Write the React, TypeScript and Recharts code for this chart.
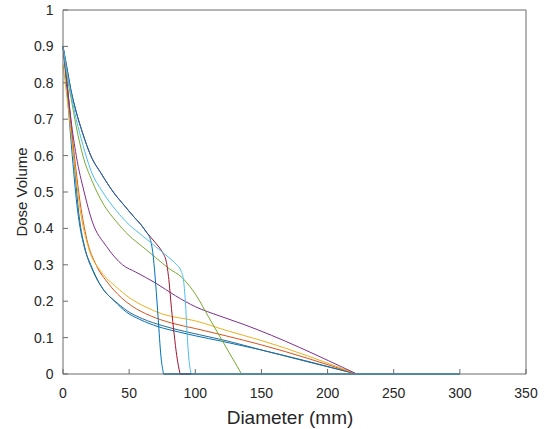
import { LineChart, Line, XAxis, YAxis } from 'recharts';

// diameter (mm) / dose volume pairs; each curve ends where it reaches 0
const blueLowX = [0, 3, 7, 11, 16, 21, 29, 39, 48, 58, 72, 88, 100, 120, 145, 222];
const blueLowY = [0.9, 0.78, 0.6, 0.45, 0.35, 0.3, 0.24, 0.2, 0.17, 0.15, 0.13, 0.115, 0.105, 0.09, 0.07, 0];

const darkLowX = [0, 3, 8, 12, 17, 23, 31, 41, 50, 60, 75, 92, 103, 125, 150, 222];
const darkLowY = [0.9, 0.8, 0.6, 0.44, 0.34, 0.28, 0.23, 0.195, 0.17, 0.152, 0.133, 0.117, 0.108, 0.09, 0.066, 0];

const redLowX = [0, 3, 8, 13, 18, 25, 34, 44, 52, 66, 82, 100, 123, 150, 222];
const redLowY = [0.9, 0.8, 0.62, 0.47, 0.37, 0.3, 0.25, 0.21, 0.187, 0.16, 0.14, 0.125, 0.105, 0.08, 0];

const yellowLowX = [0, 3, 8, 13, 19, 29, 40, 50, 62, 75, 100, 125, 150, 222];
const yellowLowY = [0.85, 0.76, 0.6, 0.45, 0.35, 0.28, 0.24, 0.21, 0.185, 0.165, 0.146, 0.118, 0.092, 0];

const purpleX = [0, 3, 6, 10, 16, 22, 33, 45, 55, 70, 85, 100, 118, 136, 222];
const purpleY = [0.9, 0.8, 0.7, 0.6, 0.5, 0.42, 0.35, 0.3, 0.28, 0.25, 0.215, 0.185, 0.16, 0.137, 0];

const greenX = [0, 3, 6, 10, 15, 22, 30, 40, 50, 60, 70, 80, 90, 96, 100, 110, 120, 135];
const greenY = [0.9, 0.82, 0.76, 0.68, 0.6, 0.53, 0.47, 0.42, 0.38, 0.35, 0.32, 0.29, 0.265, 0.24, 0.22, 0.157, 0.094, 0];

const lightBlueX = [0, 3, 6, 10, 15, 21, 30, 40, 50, 60, 70, 80, 86, 89, 91, 92.5, 94, 95.5, 97];
const lightBlueY = [0.9, 0.83, 0.77, 0.7, 0.63, 0.56, 0.5, 0.45, 0.41, 0.38, 0.35, 0.32, 0.3, 0.285, 0.26, 0.2, 0.1, 0.03, 0];

const darkRedX = [0, 3, 6, 10, 15, 21, 29, 38, 47, 54, 59, 63, 70, 75, 78, 80, 82, 84, 86, 88.5];
const darkRedY = [0.9, 0.84, 0.78, 0.72, 0.66, 0.6, 0.55, 0.5, 0.46, 0.43, 0.41, 0.39, 0.36, 0.335, 0.31, 0.26, 0.18, 0.11, 0.05, 0];

const blueTopX = [0, 3, 6, 10, 15, 21, 29, 38, 47, 54, 59, 63, 66, 68, 70, 72, 74, 76];
const blueTopY = [0.9, 0.84, 0.78, 0.72, 0.66, 0.6, 0.55, 0.5, 0.46, 0.43, 0.41, 0.39, 0.37, 0.33, 0.25, 0.15, 0.05, 0];

// every curve stays at 0 up to here
const zeroEnd = 300;

const xTicks = [0, 50, 100, 150, 200, 250, 300, 350];
const yTicks = [0, 0.1, 0.2, 0.3, 0.4, 0.5, 0.6, 0.7, 0.8, 0.9, 1];

const series = [
  { key: 'blueLow', color: '#0072BD', xs: blueLowX, ys: blueLowY },
  { key: 'darkLow', color: '#2E6B8A', xs: darkLowX, ys: darkLowY },
  { key: 'redLow', color: '#D95319', xs: redLowX, ys: redLowY },
  { key: 'yellowLow', color: '#EDB120', xs: yellowLowX, ys: yellowLowY },
  { key: 'purple', color: '#7E2F8E', xs: purpleX, ys: purpleY },
  { key: 'green', color: '#77AC30', xs: greenX, ys: greenY },
  { key: 'darkRed', color: '#A2142F', xs: darkRedX, ys: darkRedY },
  { key: 'blueTop', color: '#0072BD', xs: blueTopX, ys: blueTopY },
  { key: 'lightBlue', color: '#4DBEEE', xs: lightBlueX, ys: lightBlueY },
];

const FONT = '"Liberation Sans", Arial, sans-serif';
const TEXT = '#262626';
const AXIS = '#6b6b6b';
const TICK = 5;

// MATLAB-style ticks point into the plot box
const BottomTick = ({ x, y, payload }: any) => (
  <g>
    <line x1={x} x2={x} y1={y} y2={y - TICK} stroke={AXIS} />
    <text x={x} y={y + 19} dy="0.35em" textAnchor="middle" fontSize={14} fontFamily={FONT} fill={TEXT}>
      {payload.value}
    </text>
  </g>
);
const LeftTick = ({ x, y, payload }: any) => (
  <g>
    <line x1={x} x2={x + TICK} y1={y} y2={y} stroke={AXIS} />
    <text x={x - 9.5} y={y} dy="0.35em" textAnchor="end" fontSize={14} fontFamily={FONT} fill={TEXT}>
      {payload.value}
    </text>
  </g>
);
const TopTick = ({ x, y }: any) => <line x1={x} x2={x} y1={y} y2={y + TICK} stroke={AXIS} />;
const RightTick = ({ x, y }: any) => <line x1={x} x2={x - TICK} y1={y} y2={y} stroke={AXIS} />;

export default function App() {
  return (
    <div style={{ position: 'absolute', left: 0, top: 0, width: 544, height: 429, background: '#fff' }}>
      <LineChart width={544} height={429} margin={{ top: 9, right: 17, left: 23, bottom: 25 }}>
        <XAxis
          dataKey="x" type="number" domain={[0, 350]} ticks={xTicks} interval={0}
          height={30} tickSize={0} tickMargin={0} tickLine={false}
          axisLine={{ stroke: AXIS }} tick={BottomTick}
          label={{
            content: () => (
              <text x={290} y={424} textAnchor="middle" fontSize={19} fontFamily={FONT} fill={TEXT}>
                Diameter (mm)
              </text>
            ),
          }}
        />
        <XAxis
          xAxisId="top" orientation="top" dataKey="x" type="number" domain={[0, 350]} ticks={xTicks}
          interval={0} height={1} tickSize={0} tickMargin={0} tickLine={false}
          axisLine={{ stroke: AXIS }} tick={TopTick}
        />
        <YAxis
          type="number" domain={[0, 1]} ticks={yTicks} interval={0} width={40}
          tickSize={0} tickMargin={0} tickLine={false} axisLine={{ stroke: AXIS }} tick={LeftTick}
          label={{
            content: () => (
              <text x={27} y={192} transform="rotate(-90, 27, 192)" textAnchor="middle" fontSize={15} fontFamily={FONT} fill={TEXT}>
                Dose Volume
              </text>
            ),
          }}
        />
        <YAxis
          yAxisId="right" orientation="right" type="number" domain={[0, 1]} ticks={yTicks} interval={0}
          width={1} tickSize={0} tickMargin={0} tickLine={false} axisLine={{ stroke: AXIS }} tick={RightTick}
        />
        {series.map((s) => (
          <Line
            key={s.key}
            data={s.xs.map((x, i) => ({ x, y: s.ys[i] }))}
            dataKey="y"
            type="monotone"
            stroke={s.color}
            strokeWidth={1}
            dot={false}
            isAnimationActive={false}
          />
        ))}
        {series.map((s) => (
          <Line
            key={s.key + '-zero'}
            data={[{ x: s.xs[s.xs.length - 1], y: 0 }, { x: zeroEnd, y: 0 }]}
            dataKey="y"
            type="linear"
            stroke={s.color}
            strokeWidth={1.5}
            dot={false}
            isAnimationActive={false}
          />
        ))}
      </LineChart>
    </div>
  );
}
